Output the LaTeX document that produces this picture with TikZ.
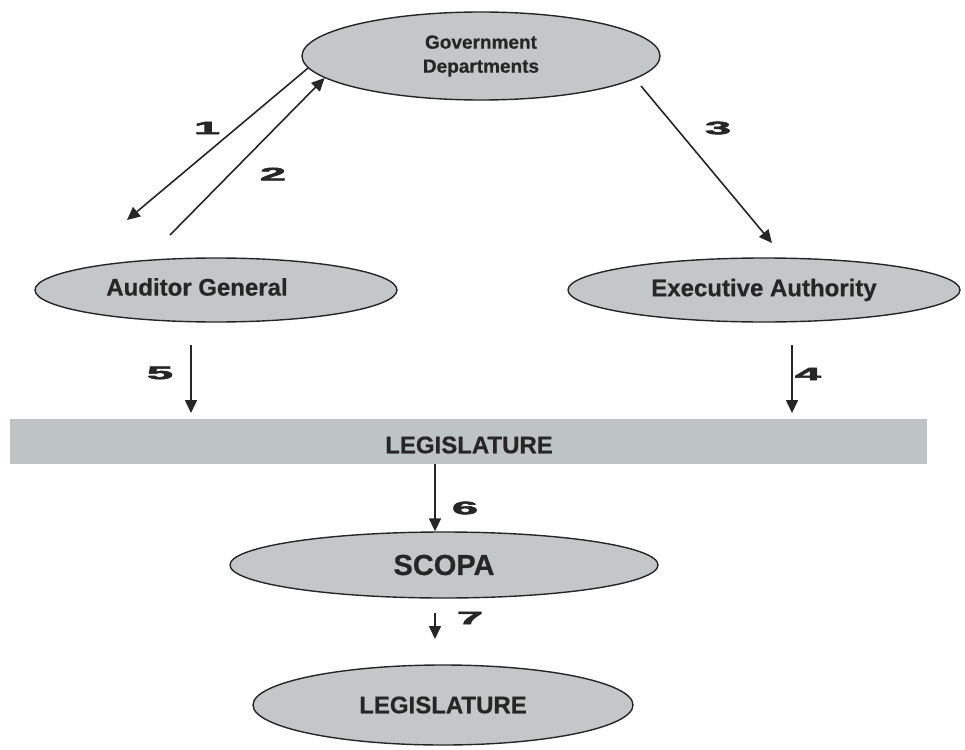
\documentclass[tikz,border=0pt]{standalone}
\usepackage{fontspec}
\setmainfont{Liberation Sans}
\newfontfamily\numfont[FakeBold=2.5]{Liberation Sans Bold}
\newfontfamily\heavyfont[FakeBold=0.6]{Liberation Sans Bold}
\usetikzlibrary{shapes.geometric,arrows.meta}
\definecolor{boxfill}{RGB}{196,199,199}
\definecolor{barfill}{RGB}{190,195,196}
\definecolor{ink}{RGB}{38,38,38}
\newcommand{\stepnum}[1]{\scalebox{2.6}[1]{\fontsize{18}{18}\numfont #1}}
\tikzset{
  oval/.style={ellipse, draw=ink, line width=1.4pt, fill=boxfill, inner sep=0pt},
  ovaltext/.style={text=ink},
  arr/.style={draw=ink, line width=1.6pt, -{Triangle[length=13pt,width=12pt]}},
  numlabel/.style={text=ink, inner sep=0pt}
}
\begin{document}
\begin{tikzpicture}[x=1pt,y=-1pt]
  \useasboundingbox (0,0) rectangle (965,749);

  % entities
  \node[oval, minimum width=358pt, minimum height=88pt,
        font=\fontsize{19}{24}\heavyfont, text=ink, align=center]
        (gd) at (481,56) {Government\\Departments};
  \node[oval, minimum width=362pt, minimum height=64pt] (ag) at (216,290) {};
  \node[ovaltext, font=\fontsize{24}{24}\heavyfont] (agt) at (197,287) {Auditor General};
  \node[oval, minimum width=392pt, minimum height=64pt,
        font=\fontsize{24}{24}\heavyfont, text=ink] (ea) at (764,290) {Executive Authority};
  \node[fill=barfill, minimum width=917pt, minimum height=45pt, inner sep=0pt] (leg) at (468.5,441.5) {};
  \node[ovaltext, font=\fontsize{24}{24}\heavyfont] (legt) at (469,445) {LEGISLATURE};
  \node[oval, minimum width=428pt, minimum height=66pt,
        font=\fontsize{29}{29}\heavyfont, text=ink] (scopa) at (444,565) {SCOPA};
  \node[oval, minimum width=380pt, minimum height=80pt,
        font=\fontsize{24}{24}\heavyfont, text=ink] (leg2) at (443,705) {LEGISLATURE};

  % free ends of the connectors
  \coordinate (e1) at (127,220);
  \coordinate (s2) at (170,235);
  \coordinate (s3) at (641,86);
  \coordinate (e3) at (772,243);
  \coordinate (s4) at (792,345);
  \coordinate (e4) at (792,413);
  \coordinate (s5) at (191,345);
  \coordinate (e5) at (191,413);
  \coordinate (x6) at (435,0);
  \coordinate (s7) at (435,613);
  \coordinate (e7) at (435,639);

  % connectors
  \draw[arr] (gd.184) -- (e1);
  \draw[arr] (s2) -- (gd.188.5);
  \draw[arr] (s3) -- (e3);
  \draw[arr] (s4) -- (e4);
  \draw[arr] (s5) -- (e5);
  \draw[arr] (leg.south -| x6) -- (scopa.north -| x6);
  \draw[arr] (s7) -- (e7);

  % step numbers
  \node[numlabel] (n1) at (207,128) {\stepnum{1}};
  \node[numlabel] (n2) at (273,174) {\stepnum{2}};
  \node[numlabel] (n3) at (718,128) {\stepnum{3}};
  \node[numlabel] (n4) at (808,374) {\stepnum{4}};
  \node[numlabel] (n5) at (160,373) {\stepnum{5}};
  \node[numlabel] (n6) at (465,508) {\stepnum{6}};
  \node[numlabel] (n7) at (470,618) {\stepnum{7}};
\end{tikzpicture}
\end{document}
